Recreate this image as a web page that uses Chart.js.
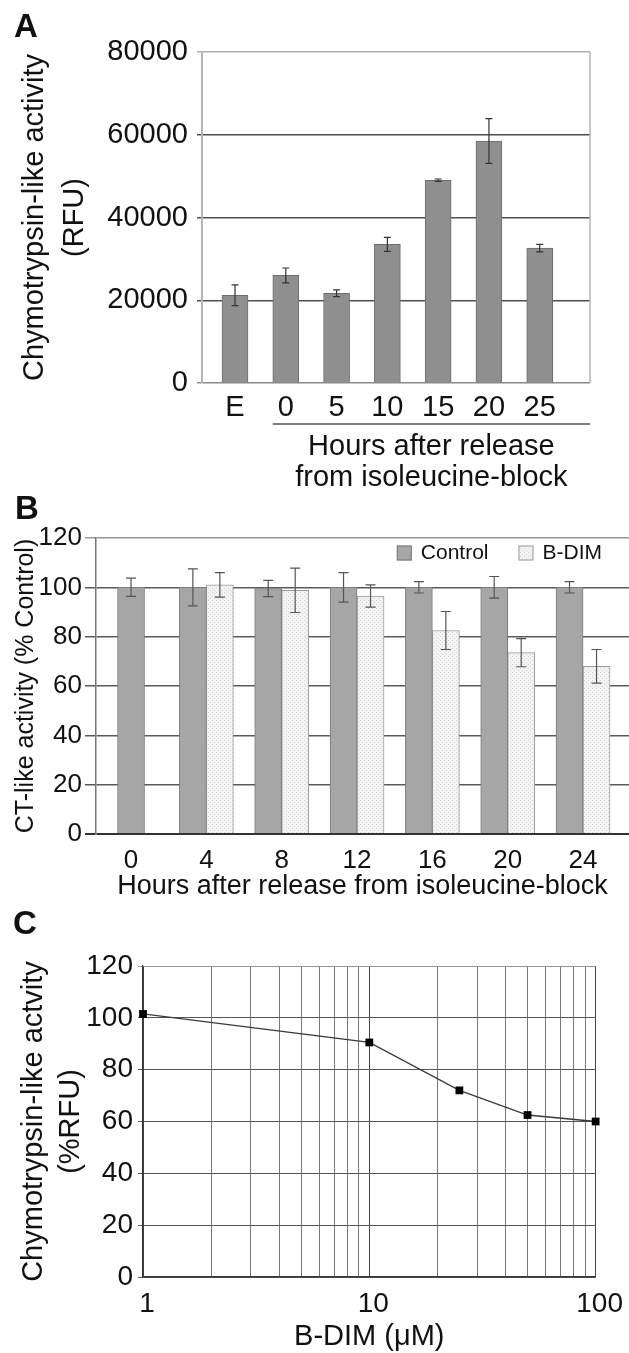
<!DOCTYPE html>
<html>
<head>
<meta charset="utf-8">
<script src="https://cdn.jsdelivr.net/npm/chart.js@4.4.0/dist/chart.umd.min.js"></script>
<style>
  html, body { margin: 0; padding: 0; background: #fff; }
  body { width: 629px; height: 1353px; position: relative; overflow: hidden; font-family: "Liberation Sans", Arial, sans-serif; }
  canvas { position: absolute; left: 0; }
  .panel { position: absolute; font-weight: bold; font-size: 33px; line-height: 33px; color: #111; }
</style>
</head>
<body>
<canvas id="chartA" width="629" height="500" style="top:0"></canvas>
<canvas id="chartB" width="629" height="405" style="top:500px"></canvas>
<canvas id="chartC" width="629" height="448" style="top:905px"></canvas>
<div class="panel" style="left:14px; top:9px">A</div>
<div class="panel" style="left:15px; top:491px">B</div>
<div class="panel" style="left:13px; top:906px">C</div>
<script>
const FONT = '"Liberation Sans", Arial, sans-serif';
Chart.defaults.font.family = FONT;
Chart.defaults.color = '#111';

// panel A
const aLabels = ['E', '0', '5', '10', '15', '20', '25'];
const aValues = [21200, 26000, 21700, 33500, 49000, 58500, 32600];
const aErrors = [2500, 1800, 800, 1700, 300, 5400, 900];
const aYTitle = ['Chymotrypsin-like activity', '(RFU)'];
const aGroupTitle = ['Hours after release', 'from isoleucine-block'];

// panel B
const bLabels = ['0', '4', '8', '12', '16', '20', '24'];
const bControl = [100, 100, 99.5, 100, 100, 100, 100];
const bControlErr = [3.7, 7.5, 3.3, 6, 2.3, 4.4, 2.3];
const bBdim = [null, 101, 98.8, 96.5, 82.5, 73.5, 68];
const bBdimErr = [null, 5, 9, 4.5, 7.7, 5.7, 6.8];
const bYTitle = 'CT-like activity (% Control)';
const bXTitle = 'Hours after release from isoleucine-block';

// panel C
const cDose = [1, 10, 25, 50, 100];
const cActivity = [101.5, 90.5, 72, 62.5, 60];
const cLogTicks = [1, 2, 3, 4, 5, 6, 7, 8, 9, 10, 20, 30, 40, 50, 60, 70, 80, 90, 100];
const cLabeledTicks = [1, 10, 100];
const cYTitle = ['Chymotrypsin-like actvity', '(%RFU)'];
const cXTitle = 'B-DIM (\u03bcM)';

// error bars drawn over the bars
const errorBars = {
  id: 'errorBars',
  afterDatasetsDraw(chart, args, opts) {
    const ctx = chart.ctx;
    const y = chart.scales.y;
    ctx.save();
    ctx.strokeStyle = opts.color;
    ctx.lineWidth = opts.width;
    chart.data.datasets.forEach((ds, di) => {
      const errs = opts.errors[di];
      if (!errs) return;
      chart.getDatasetMeta(di).data.forEach((bar, i) => {
        const v = ds.data[i].y, e = errs[i];
        if (v == null || e == null) return;
        const top = y.getPixelForValue(v + e);
        const bot = y.getPixelForValue(v - e);
        ctx.beginPath();
        ctx.moveTo(bar.x, top); ctx.lineTo(bar.x, bot);
        ctx.moveTo(bar.x - opts.cap, top); ctx.lineTo(bar.x + opts.cap, top);
        ctx.moveTo(bar.x - opts.cap, bot); ctx.lineTo(bar.x + opts.cap, bot);
        ctx.stroke();
      });
    });
    ctx.restore();
  }
};

// bracket + group label under panel A
const groupBracket = {
  id: 'groupBracket',
  afterDraw(chart, args, opts) {
    const { ctx, chartArea } = chart;
    const left = chart.scales.x.getPixelForValue(opts.from) - opts.inset;
    const right = chartArea.right;
    const yLine = chartArea.bottom + opts.offset;
    ctx.save();
    ctx.strokeStyle = '#555';
    ctx.lineWidth = 1.5;
    ctx.beginPath();
    ctx.moveTo(left, yLine);
    ctx.lineTo(right, yLine);
    ctx.stroke();
    ctx.font = opts.size + 'px ' + FONT;
    ctx.fillStyle = '#111';
    ctx.textAlign = 'center';
    ctx.textBaseline = 'middle';
    const cx = (left + right) / 2;
    opts.text.forEach((t, i) => ctx.fillText(t, cx, yLine + opts.textTop + i * opts.lineHeight));
    ctx.restore();
  }
};

const rightFrame = {
  id: 'rightFrame',
  beforeDatasetsDraw(chart, args, opts) {
    const { ctx, chartArea: { top, bottom, right } } = chart;
    ctx.save();
    ctx.strokeStyle = opts.color;
    ctx.lineWidth = opts.width;
    ctx.beginPath();
    ctx.moveTo(right, top);
    ctx.lineTo(right, bottom);
    ctx.stroke();
    ctx.restore();
  }
};

// legend inside the plot, top right (panel B)
const insideLegend = {
  id: 'insideLegend',
  afterDraw(chart, args, opts) {
    const { ctx, chartArea } = chart;
    ctx.save();
    ctx.font = opts.size + 'px ' + FONT;
    ctx.textBaseline = 'middle';
    const items = chart.data.datasets.map(ds => ({
      label: ds.label, fill: ds.backgroundColor, stroke: ds.borderColor, w: ctx.measureText(ds.label).width
    }));
    const total = items.reduce((s, it) => s + opts.box + opts.gap + it.w, 0) + opts.spacing * (items.length - 1);
    let x = chartArea.right - opts.right - total;
    const cy = chartArea.top + opts.top;
    items.forEach(it => {
      ctx.fillStyle = it.fill;
      ctx.fillRect(x, cy - opts.box / 2, opts.box, opts.box);
      ctx.strokeStyle = it.stroke;
      ctx.lineWidth = 1;
      ctx.strokeRect(x + 0.5, cy - opts.box / 2 + 0.5, opts.box - 1, opts.box - 1);
      ctx.fillStyle = '#111';
      ctx.fillText(it.label, x + opts.box + opts.gap, cy);
      x += opts.box + opts.gap + it.w + opts.spacing;
    });
    ctx.restore();
  }
};

const noLegend = { legend: { display: false }, tooltip: { enabled: false } };

// ---------- A ----------
new Chart(document.getElementById('chartA'), {
  type: 'bar',
  data: {
    datasets: [{
      label: 'Chymotrypsin-like activity',
      data: aValues.map((v, i) => ({ x: i, y: v })),
      backgroundColor: '#8f8f8f',
      borderColor: '#6c6c6c',
      borderWidth: 1,
      barThickness: 26
    }]
  },
  options: {
    responsive: false,
    animation: false,
    layout: { padding: { top: 52, right: 39, left: 0, bottom: 0 } },
    plugins: {
      ...noLegend,
      errorBars: { errors: [aErrors], color: '#333', width: 1.2, cap: 3.5 },
      groupBracket: { from: 1, inset: 13, offset: 41, textTop: 23, lineHeight: 31, size: 29, text: aGroupTitle },
      rightFrame: { color: '#b5b5b5', width: 1.5 }
    },
    scales: {
      x: {
        type: 'linear', min: -0.65, max: 6.99, offset: false,
        afterBuildTicks: s => { s.ticks = aLabels.map((_, i) => ({ value: i })); },
        afterFit: s => { s.height = 117; },
        grid: { display: false },
        border: { display: false },
        ticks: { autoSkip: false, maxRotation: 0, padding: 0, font: { size: 29 }, color: '#111', callback: v => aLabels[v] }
      },
      y: {
        min: 0, max: 80000,
        afterFit: s => { s.width = 202; },
        ticks: { stepSize: 20000, padding: 9, font: { size: 29 }, color: '#111', callback: v => String(v) },
        grid: {
          color: c => c.tick.value === 80000 ? '#b0b0b0' : (c.tick.value === 0 ? '#8a8a8a' : '#505050'),
          lineWidth: 1.5, tickLength: 5
        },
        border: { color: '#b5b5b5', width: 2 },
        title: { display: true, text: aYTitle, color: '#111', font: { size: 29, lineHeight: '40px' }, padding: { top: 15, bottom: 0 } }
      }
    }
  },
  plugins: [errorBars, groupBracket, rightFrame]
});

// ---------- B ----------
const ctxB = document.getElementById('chartB').getContext('2d');
const tile = document.createElement('canvas');
tile.width = 4; tile.height = 4;
const tg = tile.getContext('2d');
tg.fillStyle = '#f3f3f3'; tg.fillRect(0, 0, 4, 4);
tg.fillStyle = '#d4d4d4'; tg.fillRect(0, 0, 1, 1); tg.fillRect(2, 2, 1, 1);
const dotted = ctxB.createPattern(tile, 'repeat');

new Chart(ctxB, {
  type: 'bar',
  data: {
    datasets: [
      {
        label: 'Control',
        data: bControl.map((v, i) => ({ x: i, y: v })),
        backgroundColor: '#a6a6a6', borderColor: '#7a7a7a', borderWidth: 1,
        barThickness: 27, skipNull: true
      },
      {
        label: 'B-DIM',
        data: bBdim.map((v, i) => ({ x: i, y: v })),
        backgroundColor: dotted, borderColor: '#9a9a9a', borderWidth: 1,
        barThickness: 27, skipNull: true
      }
    ]
  },
  options: {
    responsive: false,
    animation: false,
    layout: { padding: { top: 38, right: 0, left: 0, bottom: 0 } },
    plugins: {
      ...noLegend,
      errorBars: { errors: [bControlErr, bBdimErr], color: '#555', width: 1.2, cap: 5 },
      insideLegend: { size: 21, box: 15, gap: 9, spacing: 30, right: 27, top: 15 }
    },
    scales: {
      x: {
        type: 'linear', min: -0.465, max: 6.61, offset: false,
        afterBuildTicks: s => { s.ticks = bLabels.map((_, i) => ({ value: i })); },
        afterFit: s => { s.height = 71; },
        grid: { display: false },
        border: { display: false },
        ticks: { autoSkip: false, maxRotation: 0, padding: 3, font: { size: 26 }, color: '#111', callback: v => bLabels[v] },
        title: { display: true, text: bXTitle, color: '#111', font: { size: 27 }, padding: { top: 0, bottom: 2 } }
      },
      y: {
        min: 0, max: 120,
        afterFit: s => { s.width = 96; },
        ticks: { stepSize: 20, padding: 3, font: { size: 26 }, color: '#111' },
        grid: {
          color: c => c.tick.value === 120 ? '#9a9a9a' : (c.tick.value === 0 ? '#333' : '#5a5a5a'),
          lineWidth: c => c.tick.value === 0 ? 2 : 1.5,
          tickLength: 11
        },
        border: { color: '#777', width: 1.5 },
        title: { display: true, text: bYTitle, color: '#111', font: { size: 25 }, padding: { top: 11, bottom: 0 } }
      }
    }
  },
  plugins: [errorBars, insideLegend]
});

// ---------- C ----------
new Chart(document.getElementById('chartC'), {
  type: 'line',
  data: {
    datasets: [{
      label: 'B-DIM',
      data: cDose.map((x, i) => ({ x: x, y: cActivity[i] })),
      borderColor: '#3a3a3a', borderWidth: 1.3, tension: 0,
      pointStyle: 'rect', pointRadius: 5.5, pointBackgroundColor: '#000', pointBorderColor: '#000', pointBorderWidth: 0,
      clip: false
    }]
  },
  options: {
    responsive: false,
    animation: false,
    layout: { padding: { top: 61, right: 33, left: 0, bottom: 0 } },
    plugins: { ...noLegend },
    scales: {
      x: {
        type: 'logarithmic', min: 1, max: 100,
        afterBuildTicks: s => { s.ticks = cLogTicks.map(v => ({ value: v })); },
        afterFit: s => { s.height = 76; },
        grid: { color: c => cLabeledTicks.includes(c.tick.value) ? '#444' : '#777', lineWidth: 1, drawTicks: false },
        border: { color: '#333', width: 1.2 },
        ticks: {
          autoSkip: false, maxRotation: 0, padding: 10, labelOffset: 4, font: { size: 28 }, color: '#111',
          callback: v => cLabeledTicks.includes(v) ? String(v) : ''
        },
        title: { display: true, text: cXTitle, color: '#111', font: { size: 29, lineHeight: 1.1 }, padding: 0 }
      },
      y: {
        min: 0, max: 120,
        afterFit: s => { s.width = 143; },
        ticks: { stepSize: 20, padding: 5, font: { size: 28 }, color: '#111' },
        grid: { color: c => c.tick.value === 120 ? '#999' : '#555', lineWidth: 1, tickLength: 5 },
        border: { color: '#333', width: 1.2 },
        title: { display: true, text: cYTitle, color: '#111', font: { size: 29, lineHeight: '37px' }, padding: { top: 15.5, bottom: 0 } }
      }
    }
  }
});
</script>
</body>
</html>
